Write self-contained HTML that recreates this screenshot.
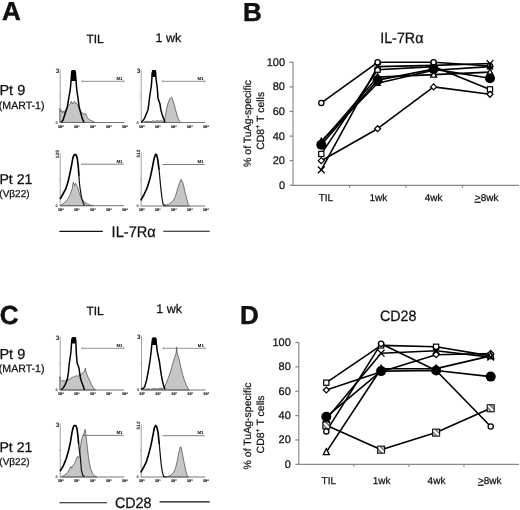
<!DOCTYPE html>
<html><head><meta charset="utf-8"><style>
html,body{margin:0;padding:0;background:#fff;}
body{width:520px;height:510px;overflow:hidden;}
svg{display:block;font-family:"Liberation Sans", sans-serif;will-change:transform;text-rendering:geometricPrecision;}
</style></head><body>
<svg width="520" height="510" viewBox="0 0 520 510">
<rect width="520" height="510" fill="#fff"/>
<text x="1.9" y="19.8" font-size="26" font-weight="bold" text-anchor="start" fill="#111" stroke="#111" stroke-width="0.45" >A</text>
<text x="242.9" y="20.9" font-size="26" font-weight="bold" text-anchor="start" fill="#111" stroke="#111" stroke-width="0.45" >B</text>
<text x="-0.2" y="324.0" font-size="26" font-weight="bold" text-anchor="start" fill="#111" stroke="#111" stroke-width="0.45" >C</text>
<text x="240.1" y="324.1" font-size="26" font-weight="bold" text-anchor="start" fill="#111" stroke="#111" stroke-width="0.45" >D</text>
<text x="86.4" y="43" font-size="12" font-weight="normal" text-anchor="start" fill="#111" stroke="#111" stroke-width="0.25" >TIL</text>
<text x="155.6" y="42.3" font-size="12.5" font-weight="normal" text-anchor="start" fill="#111" stroke="#111" stroke-width="0.25" >1 wk</text>
<text x="-0.6" y="94.9" font-size="14.5" font-weight="normal" text-anchor="start" fill="#111" stroke="#111" stroke-width="0.25" >Pt 9</text>
<text x="-1.2" y="108.9" font-size="10.6" font-weight="normal" text-anchor="start" fill="#111" stroke="#111" stroke-width="0.25" >(MART-1)</text>
<text x="-0.6" y="183.5" font-size="14.1" font-weight="normal" text-anchor="start" fill="#111" stroke="#111" stroke-width="0.25" >Pt 21</text>
<text x="-0.7" y="196.8" font-size="10" font-weight="normal" text-anchor="start" fill="#111" stroke="#111" stroke-width="0.25" >(V&#946;22)</text>
<text x="86.4" y="314.8" font-size="12" font-weight="normal" text-anchor="start" fill="#111" stroke="#111" stroke-width="0.25" >TIL</text>
<text x="156.3" y="313.1" font-size="12.5" font-weight="normal" text-anchor="start" fill="#111" stroke="#111" stroke-width="0.25" >1 wk</text>
<text x="-0.6" y="358.6" font-size="14.5" font-weight="normal" text-anchor="start" fill="#111" stroke="#111" stroke-width="0.25" >Pt 9</text>
<text x="-1.2" y="372.1" font-size="10.6" font-weight="normal" text-anchor="start" fill="#111" stroke="#111" stroke-width="0.25" >(MART-1)</text>
<text x="-0.6" y="451.8" font-size="14.1" font-weight="normal" text-anchor="start" fill="#111" stroke="#111" stroke-width="0.25" >Pt 21</text>
<text x="-0.7" y="465.1" font-size="10" font-weight="normal" text-anchor="start" fill="#111" stroke="#111" stroke-width="0.25" >(V&#946;22)</text>
<polygon points="59.8,122.5 59.8,122.5 59.8,108.4 60.6,112.0 61.5,110.0 62.5,113.0 63.5,111.0 64.5,112.5 65.5,110.0 66.5,109.0 67.5,107.0 68.5,105.0 69.5,104.5 70.5,103.5 71.5,101.3 72.5,104.0 73.5,102.5 74.5,101.3 75.5,103.5 76.5,103.0 77.5,105.0 78.5,107.0 79.5,109.5 80.5,111.0 81.5,112.0 82.5,113.0 83.5,114.5 84.5,113.8 85.6,113.6 86.5,116.0 88.0,118.5 90.0,120.0 93.3,121.5 95.0,122.5 95.0,122.5" fill="#c6c6c6" stroke="#444" stroke-width="0.7" stroke-linejoin="round"/>
<line x1="60.2" y1="69.6" x2="60.2" y2="122.5" stroke="#888" stroke-width="0.8"/>
<line x1="59.7" y1="122.5" x2="124.2" y2="122.5" stroke="#666" stroke-width="0.9"/>
<line x1="59.300000000000004" y1="96.0" x2="60.2" y2="96.0" stroke="#777" stroke-width="0.8"/>
<polyline points="61.7,121.6 63.0,120.3 64.2,116.5 65.6,112.0 67.2,107.3 68.3,101.0 69.3,95.0 70.2,90.0 70.8,84.0 71.3,78.0 71.7,72.0 72.3,70.8 74.7,70.8 75.3,72.0 75.8,78.0 76.3,84.0 76.8,90.0 77.7,96.0 78.5,102.0 79.2,107.3 80.5,112.0 81.7,116.5 82.8,120.0 83.8,121.6" fill="none" stroke="#000" stroke-width="1.5" stroke-linejoin="round" stroke-linecap="round"/>
<polygon points="70.9,81.0 71.3,75.0 71.5,71.0 72.0,70.1 75.0,70.1 75.5,71.0 75.8,75.0 76.2,81.0" fill="#000"/>
<text x="59.2" y="72.69999999999999" font-size="6.4" font-weight="bold" text-anchor="end" fill="#2a2a2a">3</text>
<text x="57.7" y="123.6" font-size="3.8" font-weight="bold" text-anchor="end" fill="#111">0</text>
<text x="60.8" y="127.8" font-size="3.7" font-weight="bold" text-anchor="middle" fill="#111" stroke="#111" stroke-width="0.2">10<tspan font-size="2.5" dy="-1.3" stroke-width="0.1">0</tspan></text>
<text x="76.8" y="127.8" font-size="3.7" font-weight="bold" text-anchor="middle" fill="#111" stroke="#111" stroke-width="0.2">10<tspan font-size="2.5" dy="-1.3" stroke-width="0.1">1</tspan></text>
<text x="92.8" y="127.8" font-size="3.7" font-weight="bold" text-anchor="middle" fill="#111" stroke="#111" stroke-width="0.2">10<tspan font-size="2.5" dy="-1.3" stroke-width="0.1">2</tspan></text>
<text x="108.8" y="127.8" font-size="3.7" font-weight="bold" text-anchor="middle" fill="#111" stroke="#111" stroke-width="0.2">10<tspan font-size="2.5" dy="-1.3" stroke-width="0.1">3</tspan></text>
<text x="124.8" y="127.8" font-size="3.7" font-weight="bold" text-anchor="middle" fill="#111" stroke="#111" stroke-width="0.2">10<tspan font-size="2.5" dy="-1.3" stroke-width="0.1">4</tspan></text>
<line x1="82.4" y1="81.3" x2="123.8" y2="81.3" stroke="#666" stroke-width="0.7"/>
<line x1="82.4" y1="80.3" x2="82.4" y2="82.3" stroke="#555" stroke-width="0.6"/>
<line x1="123.8" y1="80.3" x2="123.8" y2="82.3" stroke="#555" stroke-width="0.6"/>
<text x="122.5" y="79.89999999999999" font-size="4.3" font-weight="bold" text-anchor="end" fill="#000">M1</text>
<polygon points="143.0,122.5 143.0,122.5 145.0,121.6 148.0,121.3 151.0,121.8 153.0,120.8 155.0,121.5 157.0,120.5 159.0,121.2 161.0,120.8 163.0,121.2 164.3,121.5 165.5,115.0 166.6,109.0 167.8,104.0 169.0,100.5 170.2,98.2 171.4,97.2 172.4,98.5 173.3,101.5 174.3,105.0 175.5,109.5 176.7,114.0 177.8,117.8 179.6,121.3 180.2,122.5 180.2,122.5" fill="#c6c6c6" stroke="#444" stroke-width="0.7" stroke-linejoin="round"/>
<line x1="141.2" y1="69.6" x2="141.2" y2="122.5" stroke="#888" stroke-width="0.8"/>
<line x1="140.7" y1="122.5" x2="205.2" y2="122.5" stroke="#666" stroke-width="0.9"/>
<line x1="140.29999999999998" y1="96.0" x2="141.2" y2="96.0" stroke="#777" stroke-width="0.8"/>
<polyline points="141.7,121.7 143.2,120.3 144.6,118.1 146.3,114.0 147.5,111.0 148.1,109.4 148.8,104.0 149.5,97.9 150.4,92.0 151.3,86.0 151.8,80.0 152.2,74.0 152.7,71.0 155.4,71.0 155.8,76.0 156.2,80.0 157.0,86.0 157.6,92.0 157.9,97.9 159.9,103.7 160.8,109.4 162.0,114.0 163.4,118.1 164.8,121.7" fill="none" stroke="#000" stroke-width="1.5" stroke-linejoin="round" stroke-linecap="round"/>
<polygon points="151.6,77.0 151.9,72.0 152.3,70.2 155.9,70.2 156.1,72.0 156.2,77.0" fill="#000"/>
<text x="140.2" y="72.69999999999999" font-size="6.4" font-weight="bold" text-anchor="end" fill="#2a2a2a">3</text>
<text x="138.7" y="123.6" font-size="3.8" font-weight="bold" text-anchor="end" fill="#111">0</text>
<text x="141.8" y="127.8" font-size="3.7" font-weight="bold" text-anchor="middle" fill="#111" stroke="#111" stroke-width="0.2">10<tspan font-size="2.5" dy="-1.3" stroke-width="0.1">0</tspan></text>
<text x="157.8" y="127.8" font-size="3.7" font-weight="bold" text-anchor="middle" fill="#111" stroke="#111" stroke-width="0.2">10<tspan font-size="2.5" dy="-1.3" stroke-width="0.1">1</tspan></text>
<text x="173.8" y="127.8" font-size="3.7" font-weight="bold" text-anchor="middle" fill="#111" stroke="#111" stroke-width="0.2">10<tspan font-size="2.5" dy="-1.3" stroke-width="0.1">2</tspan></text>
<text x="189.8" y="127.8" font-size="3.7" font-weight="bold" text-anchor="middle" fill="#111" stroke="#111" stroke-width="0.2">10<tspan font-size="2.5" dy="-1.3" stroke-width="0.1">3</tspan></text>
<text x="205.8" y="127.8" font-size="3.7" font-weight="bold" text-anchor="middle" fill="#111" stroke="#111" stroke-width="0.2">10<tspan font-size="2.5" dy="-1.3" stroke-width="0.1">4</tspan></text>
<line x1="162.7" y1="81.3" x2="204.79999999999998" y2="81.3" stroke="#666" stroke-width="0.7"/>
<line x1="162.7" y1="80.3" x2="162.7" y2="82.3" stroke="#555" stroke-width="0.6"/>
<line x1="204.79999999999998" y1="80.3" x2="204.79999999999998" y2="82.3" stroke="#555" stroke-width="0.6"/>
<text x="203.5" y="79.89999999999999" font-size="4.3" font-weight="bold" text-anchor="end" fill="#000">M1</text>
<polygon points="60.4,205.7 60.4,205.6 63.9,203.3 67.4,199.8 69.8,195.1 72.1,189.2 73.3,182.1 74.5,185.6 75.6,183.3 77.4,186.8 79.2,192.7 80.9,197.4 83.3,200.9 86.2,203.3 89.8,205.1 93.3,205.6 93.3,205.7" fill="#c6c6c6" stroke="#444" stroke-width="0.7" stroke-linejoin="round"/>
<line x1="60.2" y1="153.2" x2="60.2" y2="205.7" stroke="#888" stroke-width="0.8"/>
<line x1="59.7" y1="205.7" x2="124.2" y2="205.7" stroke="#666" stroke-width="0.9"/>
<line x1="59.300000000000004" y1="179.4" x2="60.2" y2="179.4" stroke="#777" stroke-width="0.8"/>
<polyline points="60.4,198.6 62.7,194.5 65.6,189.2 68.0,182.1 69.8,173.9 71.5,165.6 73.0,157.4 74.3,154.6 75.9,154.6 77.1,157.4 78.2,165.6 78.9,175.0" fill="none" stroke="#000" stroke-width="1.65" stroke-linejoin="round" stroke-linecap="round"/>
<polyline points="78.9,175.0 79.4,183.3 80.4,190.4 81.5,197.4 83.3,203.3 84.5,205.4" fill="none" stroke="#111" stroke-width="1.2" stroke-linejoin="round"/>
<text transform="translate(58.7,154.2) rotate(-90)" font-size="4.8" font-weight="bold" text-anchor="middle" fill="#222">128</text>
<text x="57.7" y="206.79999999999998" font-size="3.8" font-weight="bold" text-anchor="end" fill="#111">0</text>
<text x="60.8" y="211.0" font-size="3.7" font-weight="bold" text-anchor="middle" fill="#111" stroke="#111" stroke-width="0.2">10<tspan font-size="2.5" dy="-1.3" stroke-width="0.1">0</tspan></text>
<text x="76.8" y="211.0" font-size="3.7" font-weight="bold" text-anchor="middle" fill="#111" stroke="#111" stroke-width="0.2">10<tspan font-size="2.5" dy="-1.3" stroke-width="0.1">1</tspan></text>
<text x="92.8" y="211.0" font-size="3.7" font-weight="bold" text-anchor="middle" fill="#111" stroke="#111" stroke-width="0.2">10<tspan font-size="2.5" dy="-1.3" stroke-width="0.1">2</tspan></text>
<text x="108.8" y="211.0" font-size="3.7" font-weight="bold" text-anchor="middle" fill="#111" stroke="#111" stroke-width="0.2">10<tspan font-size="2.5" dy="-1.3" stroke-width="0.1">3</tspan></text>
<text x="124.8" y="211.0" font-size="3.7" font-weight="bold" text-anchor="middle" fill="#111" stroke="#111" stroke-width="0.2">10<tspan font-size="2.5" dy="-1.3" stroke-width="0.1">4</tspan></text>
<line x1="81.0" y1="164.2" x2="123.8" y2="164.2" stroke="#666" stroke-width="0.85"/>
<text x="122.5" y="162.5" font-size="4.4" font-weight="bold" text-anchor="end" fill="#000">M1</text>
<polygon points="163.7,206.0 163.7,205.8 169.6,203.9 173.1,200.9 175.5,196.2 177.8,188.0 179.8,182.1 181.1,179.4 183.0,183.0 184.9,191.5 186.7,198.6 188.3,204.5 189.5,205.8 189.5,206.0" fill="#c6c6c6" stroke="#444" stroke-width="0.7" stroke-linejoin="round"/>
<line x1="141.2" y1="152.5" x2="141.2" y2="206.0" stroke="#888" stroke-width="0.8"/>
<line x1="140.7" y1="206.0" x2="205.2" y2="206.0" stroke="#666" stroke-width="0.9"/>
<line x1="140.29999999999998" y1="179.2" x2="141.2" y2="179.2" stroke="#777" stroke-width="0.8"/>
<polyline points="141.1,199.8 143.7,195.1 146.6,189.2 149.0,182.1 150.8,175.1 152.5,166.8 154.1,158.6 155.5,154.4 156.6,154.8 157.8,159.8 159.0,169.2" fill="none" stroke="#000" stroke-width="1.65" stroke-linejoin="round" stroke-linecap="round"/>
<polyline points="159.0,169.2 159.9,178.6 160.8,188.0 161.9,197.4 163.1,204.5 165.5,205.6" fill="none" stroke="#111" stroke-width="1.2" stroke-linejoin="round"/>
<text transform="translate(139.7,153.5) rotate(-90)" font-size="4.8" font-weight="bold" text-anchor="middle" fill="#222">512</text>
<text x="138.7" y="207.1" font-size="3.8" font-weight="bold" text-anchor="end" fill="#111">0</text>
<text x="141.8" y="211.3" font-size="3.7" font-weight="bold" text-anchor="middle" fill="#111" stroke="#111" stroke-width="0.2">10<tspan font-size="2.5" dy="-1.3" stroke-width="0.1">0</tspan></text>
<text x="157.8" y="211.3" font-size="3.7" font-weight="bold" text-anchor="middle" fill="#111" stroke="#111" stroke-width="0.2">10<tspan font-size="2.5" dy="-1.3" stroke-width="0.1">1</tspan></text>
<text x="173.8" y="211.3" font-size="3.7" font-weight="bold" text-anchor="middle" fill="#111" stroke="#111" stroke-width="0.2">10<tspan font-size="2.5" dy="-1.3" stroke-width="0.1">2</tspan></text>
<text x="189.8" y="211.3" font-size="3.7" font-weight="bold" text-anchor="middle" fill="#111" stroke="#111" stroke-width="0.2">10<tspan font-size="2.5" dy="-1.3" stroke-width="0.1">3</tspan></text>
<text x="205.8" y="211.3" font-size="3.7" font-weight="bold" text-anchor="middle" fill="#111" stroke="#111" stroke-width="0.2">10<tspan font-size="2.5" dy="-1.3" stroke-width="0.1">4</tspan></text>
<line x1="162.3" y1="164.5" x2="204.79999999999998" y2="164.5" stroke="#666" stroke-width="0.85"/>
<text x="203.5" y="162.8" font-size="4.4" font-weight="bold" text-anchor="end" fill="#000">M1</text>
<polygon points="59.8,390.0 59.8,390.0 59.8,376.5 60.5,380.7 61.5,381.2 63.0,380.5 64.5,381.0 66.0,380.5 67.5,380.0 69.0,379.5 70.5,378.5 72.0,377.5 73.5,377.0 75.0,376.5 76.8,375.5 77.5,376.5 78.6,376.0 79.6,374.0 80.6,375.5 81.6,374.0 82.6,372.5 83.6,372.0 84.6,371.5 85.3,368.2 85.9,371.5 87.0,374.5 88.0,377.2 89.8,380.7 91.5,384.8 93.3,387.7 95.6,390.0 95.6,390.0" fill="#c6c6c6" stroke="#444" stroke-width="0.7" stroke-linejoin="round"/>
<line x1="60.2" y1="336.9" x2="60.2" y2="390.0" stroke="#888" stroke-width="0.8"/>
<line x1="59.7" y1="390.0" x2="124.2" y2="390.0" stroke="#666" stroke-width="0.9"/>
<line x1="59.300000000000004" y1="363.4" x2="60.2" y2="363.4" stroke="#777" stroke-width="0.8"/>
<polyline points="61.8,389.2 63.5,387.5 64.9,385.1 66.3,382.0 67.4,378.8 68.4,372.5 69.3,363.1 70.1,358.0 70.8,353.0 71.3,347.0 71.7,341.0 72.3,338.0 75.4,338.0 75.8,341.0 76.1,347.0 76.3,353.0 76.7,358.0 77.1,363.1 79.0,368.0 79.6,372.5 80.6,378.8 81.6,382.0 82.8,385.1 84.3,389.2" fill="none" stroke="#000" stroke-width="1.5" stroke-linejoin="round" stroke-linecap="round"/>
<polygon points="71.5,343.5 71.8,339.0 72.1,337.2 75.7,337.2 75.9,339.0 76.0,343.5" fill="#000"/>
<text x="59.2" y="340.0" font-size="6.4" font-weight="bold" text-anchor="end" fill="#2a2a2a">3</text>
<text x="57.7" y="391.1" font-size="3.8" font-weight="bold" text-anchor="end" fill="#111">0</text>
<text x="60.8" y="395.3" font-size="3.7" font-weight="bold" text-anchor="middle" fill="#111" stroke="#111" stroke-width="0.2">10<tspan font-size="2.5" dy="-1.3" stroke-width="0.1">0</tspan></text>
<text x="76.8" y="395.3" font-size="3.7" font-weight="bold" text-anchor="middle" fill="#111" stroke="#111" stroke-width="0.2">10<tspan font-size="2.5" dy="-1.3" stroke-width="0.1">1</tspan></text>
<text x="92.8" y="395.3" font-size="3.7" font-weight="bold" text-anchor="middle" fill="#111" stroke="#111" stroke-width="0.2">10<tspan font-size="2.5" dy="-1.3" stroke-width="0.1">2</tspan></text>
<text x="108.8" y="395.3" font-size="3.7" font-weight="bold" text-anchor="middle" fill="#111" stroke="#111" stroke-width="0.2">10<tspan font-size="2.5" dy="-1.3" stroke-width="0.1">3</tspan></text>
<text x="124.8" y="395.3" font-size="3.7" font-weight="bold" text-anchor="middle" fill="#111" stroke="#111" stroke-width="0.2">10<tspan font-size="2.5" dy="-1.3" stroke-width="0.1">4</tspan></text>
<line x1="82.2" y1="348.3" x2="123.8" y2="348.3" stroke="#666" stroke-width="0.7"/>
<line x1="82.2" y1="347.3" x2="82.2" y2="349.3" stroke="#555" stroke-width="0.6"/>
<line x1="123.8" y1="347.3" x2="123.8" y2="349.3" stroke="#555" stroke-width="0.6"/>
<text x="122.5" y="346.90000000000003" font-size="4.3" font-weight="bold" text-anchor="end" fill="#000">M1</text>
<polygon points="143.0,390.0 143.0,390.0 145.0,389.2 148.0,388.8 151.0,389.3 154.0,388.5 157.0,389.0 160.0,388.3 163.7,388.3 166.1,383.6 168.4,377.7 170.8,370.6 173.1,362.4 174.9,356.5 176.2,353.0 176.6,347.1 177.2,353.0 179.0,358.9 180.8,367.1 182.5,374.2 184.3,380.0 186.1,384.8 188.4,388.9 189.6,390.0 189.6,390.0" fill="#c6c6c6" stroke="#444" stroke-width="0.7" stroke-linejoin="round"/>
<line x1="141.5" y1="336.2" x2="141.5" y2="390.0" stroke="#888" stroke-width="0.8"/>
<line x1="141.0" y1="390.0" x2="205.5" y2="390.0" stroke="#666" stroke-width="0.9"/>
<line x1="140.6" y1="363.1" x2="141.5" y2="363.1" stroke="#777" stroke-width="0.8"/>
<polyline points="141.4,389.0 143.5,388.2 144.8,386.5 146.6,380.0 148.4,370.6 150.2,359.5 151.3,350.0 152.0,343.0 152.6,338.5 155.8,338.5 156.3,343.0 157.2,351.0 158.4,357.0 159.5,362.0 160.3,368.3 161.4,375.4 162.5,381.2 163.7,385.9 164.9,388.6" fill="none" stroke="#000" stroke-width="1.5" stroke-linejoin="round" stroke-linecap="round"/>
<polygon points="152.0,345.0 152.3,340.0 152.8,337.4 155.9,337.4 156.3,340.0 156.6,345.0" fill="#000"/>
<text x="140.5" y="339.3" font-size="6.4" font-weight="bold" text-anchor="end" fill="#2a2a2a">3</text>
<text x="139.0" y="391.1" font-size="3.8" font-weight="bold" text-anchor="end" fill="#111">0</text>
<text x="142.1" y="395.3" font-size="3.7" font-weight="bold" text-anchor="middle" fill="#111" stroke="#111" stroke-width="0.2">10<tspan font-size="2.5" dy="-1.3" stroke-width="0.1">0</tspan></text>
<text x="158.1" y="395.3" font-size="3.7" font-weight="bold" text-anchor="middle" fill="#111" stroke="#111" stroke-width="0.2">10<tspan font-size="2.5" dy="-1.3" stroke-width="0.1">1</tspan></text>
<text x="174.1" y="395.3" font-size="3.7" font-weight="bold" text-anchor="middle" fill="#111" stroke="#111" stroke-width="0.2">10<tspan font-size="2.5" dy="-1.3" stroke-width="0.1">2</tspan></text>
<text x="190.1" y="395.3" font-size="3.7" font-weight="bold" text-anchor="middle" fill="#111" stroke="#111" stroke-width="0.2">10<tspan font-size="2.5" dy="-1.3" stroke-width="0.1">3</tspan></text>
<text x="206.1" y="395.3" font-size="3.7" font-weight="bold" text-anchor="middle" fill="#111" stroke="#111" stroke-width="0.2">10<tspan font-size="2.5" dy="-1.3" stroke-width="0.1">4</tspan></text>
<line x1="163.2" y1="348.3" x2="205.1" y2="348.3" stroke="#666" stroke-width="0.7"/>
<line x1="163.2" y1="347.3" x2="163.2" y2="349.3" stroke="#555" stroke-width="0.6"/>
<line x1="205.1" y1="347.3" x2="205.1" y2="349.3" stroke="#555" stroke-width="0.6"/>
<text x="203.8" y="346.90000000000003" font-size="4.3" font-weight="bold" text-anchor="end" fill="#000">M1</text>
<polygon points="61.5,477.0 61.5,477.0 65.1,474.7 67.4,472.9 69.2,469.4 70.9,466.5 71.5,468.2 72.7,465.9 74.5,463.5 75.6,461.2 77.4,456.5 78.6,457.6 79.8,455.3 80.6,445.9 81.5,440.0 82.7,436.5 84.1,432.9 85.1,429.4 85.6,432.9 86.5,440.0 87.4,448.2 88.4,456.5 89.5,463.5 90.9,469.4 92.7,474.1 95.1,476.2 96.8,477.0 96.8,477.0" fill="#c6c6c6" stroke="#444" stroke-width="0.7" stroke-linejoin="round"/>
<line x1="60.2" y1="423.7" x2="60.2" y2="477.0" stroke="#888" stroke-width="0.8"/>
<line x1="59.7" y1="477.0" x2="124.2" y2="477.0" stroke="#666" stroke-width="0.9"/>
<line x1="59.300000000000004" y1="450.4" x2="60.2" y2="450.4" stroke="#777" stroke-width="0.8"/>
<polyline points="60.4,470.6 63.3,465.9 66.2,458.8 68.6,450.6 70.4,442.4 71.9,432.9 73.3,427.0 74.3,425.5 75.8,425.5 76.9,428.2 78.0,436.5 78.6,443.5" fill="none" stroke="#000" stroke-width="1.65" stroke-linejoin="round" stroke-linecap="round"/>
<polyline points="78.6,443.5 79.4,450.6 80.4,457.6 80.9,464.7 81.5,470.6 82.7,475.3 84.5,476.5" fill="none" stroke="#111" stroke-width="1.2" stroke-linejoin="round"/>
<text x="59.2" y="426.8" font-size="6.4" font-weight="bold" text-anchor="end" fill="#2a2a2a">3</text>
<text x="57.7" y="478.1" font-size="3.8" font-weight="bold" text-anchor="end" fill="#111">0</text>
<text x="60.8" y="482.3" font-size="3.7" font-weight="bold" text-anchor="middle" fill="#111" stroke="#111" stroke-width="0.2">10<tspan font-size="2.5" dy="-1.3" stroke-width="0.1">0</tspan></text>
<text x="76.8" y="482.3" font-size="3.7" font-weight="bold" text-anchor="middle" fill="#111" stroke="#111" stroke-width="0.2">10<tspan font-size="2.5" dy="-1.3" stroke-width="0.1">1</tspan></text>
<text x="92.8" y="482.3" font-size="3.7" font-weight="bold" text-anchor="middle" fill="#111" stroke="#111" stroke-width="0.2">10<tspan font-size="2.5" dy="-1.3" stroke-width="0.1">2</tspan></text>
<text x="108.8" y="482.3" font-size="3.7" font-weight="bold" text-anchor="middle" fill="#111" stroke="#111" stroke-width="0.2">10<tspan font-size="2.5" dy="-1.3" stroke-width="0.1">3</tspan></text>
<text x="124.8" y="482.3" font-size="3.7" font-weight="bold" text-anchor="middle" fill="#111" stroke="#111" stroke-width="0.2">10<tspan font-size="2.5" dy="-1.3" stroke-width="0.1">4</tspan></text>
<line x1="82.4" y1="435.4" x2="123.8" y2="435.4" stroke="#666" stroke-width="0.85"/>
<text x="122.5" y="433.7" font-size="4.4" font-weight="bold" text-anchor="end" fill="#000">M1</text>
<polygon points="166.1,477.0 166.1,477.0 170.8,475.3 173.7,472.4 175.5,468.2 177.2,461.2 179.0,451.8 180.2,447.1 181.1,447.1 182.5,454.1 184.3,463.5 185.8,470.6 187.2,475.3 188.4,477.0 188.4,477.0" fill="#c6c6c6" stroke="#444" stroke-width="0.7" stroke-linejoin="round"/>
<line x1="141.2" y1="424.4" x2="141.2" y2="477.0" stroke="#888" stroke-width="0.8"/>
<line x1="140.7" y1="477.0" x2="205.2" y2="477.0" stroke="#666" stroke-width="0.9"/>
<line x1="140.29999999999998" y1="450.7" x2="141.2" y2="450.7" stroke="#777" stroke-width="0.8"/>
<polyline points="141.1,471.8 143.7,467.1 146.1,462.4 148.4,455.3 150.8,445.9 152.5,437.6 154.3,428.2 155.7,425.4 156.9,427.1 158.1,432.9 159.2,443.5" fill="none" stroke="#000" stroke-width="1.65" stroke-linejoin="round" stroke-linecap="round"/>
<polyline points="159.2,443.5 160.2,454.1 161.1,463.5 162.3,471.8 163.7,476.5 166.1,477.2" fill="none" stroke="#111" stroke-width="1.2" stroke-linejoin="round"/>
<text transform="translate(139.7,425.4) rotate(-90)" font-size="4.8" font-weight="bold" text-anchor="middle" fill="#222">512</text>
<text x="138.7" y="478.1" font-size="3.8" font-weight="bold" text-anchor="end" fill="#111">0</text>
<text x="141.8" y="482.3" font-size="3.7" font-weight="bold" text-anchor="middle" fill="#111" stroke="#111" stroke-width="0.2">10<tspan font-size="2.5" dy="-1.3" stroke-width="0.1">0</tspan></text>
<text x="157.8" y="482.3" font-size="3.7" font-weight="bold" text-anchor="middle" fill="#111" stroke="#111" stroke-width="0.2">10<tspan font-size="2.5" dy="-1.3" stroke-width="0.1">1</tspan></text>
<text x="173.8" y="482.3" font-size="3.7" font-weight="bold" text-anchor="middle" fill="#111" stroke="#111" stroke-width="0.2">10<tspan font-size="2.5" dy="-1.3" stroke-width="0.1">2</tspan></text>
<text x="189.8" y="482.3" font-size="3.7" font-weight="bold" text-anchor="middle" fill="#111" stroke="#111" stroke-width="0.2">10<tspan font-size="2.5" dy="-1.3" stroke-width="0.1">3</tspan></text>
<text x="205.8" y="482.3" font-size="3.7" font-weight="bold" text-anchor="middle" fill="#111" stroke="#111" stroke-width="0.2">10<tspan font-size="2.5" dy="-1.3" stroke-width="0.1">4</tspan></text>
<line x1="162.7" y1="435.7" x2="204.79999999999998" y2="435.7" stroke="#666" stroke-width="0.85"/>
<text x="203.5" y="434.0" font-size="4.4" font-weight="bold" text-anchor="end" fill="#000">M1</text>
<line x1="59.3" y1="231.4" x2="102.8" y2="231.4" stroke="#111" stroke-width="1.1"/>
<text transform="translate(111.6,236.6) scale(1,1.055)" font-size="14.6" fill="#111" stroke="#111" stroke-width="0.25">IL-7R&#945;</text>
<line x1="163.2" y1="231.3" x2="209.7" y2="231.3" stroke="#111" stroke-width="1.1"/>
<line x1="59.5" y1="502.7" x2="106.9" y2="502.7" stroke="#111" stroke-width="1.1"/>
<text transform="translate(114.9,508.4) scale(1,1.055)" font-size="14.3" fill="#111" stroke="#111" stroke-width="0.25">CD28</text>
<line x1="159.6" y1="501.9" x2="209.7" y2="501.9" stroke="#111" stroke-width="1.1"/>
<line x1="293.0" y1="61.699999999999996" x2="293.0" y2="185.3" stroke="#888" stroke-width="1.15"/>
<line x1="293.0" y1="185.3" x2="519.0" y2="185.3" stroke="#888" stroke-width="1.15"/>
<line x1="289.6" y1="185.30" x2="293.0" y2="185.30" stroke="#808080" stroke-width="1.2"/>
<text x="285.0" y="188.75" font-size="11" font-weight="normal" text-anchor="end" fill="#111" stroke="#111" stroke-width="0.25" >0</text>
<line x1="289.6" y1="160.70" x2="293.0" y2="160.70" stroke="#808080" stroke-width="1.2"/>
<text x="285.0" y="164.15" font-size="11" font-weight="normal" text-anchor="end" fill="#111" stroke="#111" stroke-width="0.25" >20</text>
<line x1="289.6" y1="136.10" x2="293.0" y2="136.10" stroke="#808080" stroke-width="1.2"/>
<text x="285.0" y="139.55" font-size="11" font-weight="normal" text-anchor="end" fill="#111" stroke="#111" stroke-width="0.25" >40</text>
<line x1="289.6" y1="111.50" x2="293.0" y2="111.50" stroke="#808080" stroke-width="1.2"/>
<text x="285.0" y="114.95" font-size="11" font-weight="normal" text-anchor="end" fill="#111" stroke="#111" stroke-width="0.25" >60</text>
<line x1="289.6" y1="86.90" x2="293.0" y2="86.90" stroke="#808080" stroke-width="1.2"/>
<text x="285.0" y="90.35" font-size="11" font-weight="normal" text-anchor="end" fill="#111" stroke="#111" stroke-width="0.25" >80</text>
<line x1="289.6" y1="62.30" x2="293.0" y2="62.30" stroke="#808080" stroke-width="1.2"/>
<text x="285.0" y="65.75" font-size="11" font-weight="normal" text-anchor="end" fill="#111" stroke="#111" stroke-width="0.25" >100</text>
<line x1="349.50" y1="185.3" x2="349.50" y2="187.70000000000002" stroke="#808080" stroke-width="1.1"/>
<line x1="406.00" y1="185.3" x2="406.00" y2="187.70000000000002" stroke="#808080" stroke-width="1.1"/>
<line x1="462.50" y1="185.3" x2="462.50" y2="187.70000000000002" stroke="#808080" stroke-width="1.1"/>
<text transform="translate(380.2,43.1) scale(1,1.055)" font-size="14.3" fill="#111" stroke="#111" stroke-width="0.25">IL-7R&#945;</text>
<text transform="translate(251.0,166.9) rotate(-90)" font-size="10.5" fill="#111" stroke="#111" stroke-width="0.2">% of TuAg-specific</text>
<text transform="translate(263.9,149.8) rotate(-90)" font-size="10.5" fill="#111" stroke="#111" stroke-width="0.2">CD8<tspan font-size="7" dy="-3.5">+</tspan><tspan dy="3.5"> T cells</tspan></text>
<text x="318.7" y="200.8" font-size="10" font-weight="normal" text-anchor="start" fill="#111" stroke="#111" stroke-width="0.25" >TIL</text>
<text x="369.4" y="200.8" font-size="10" font-weight="normal" text-anchor="start" fill="#111" stroke="#111" stroke-width="0.25" >1wk</text>
<text x="424.8" y="200.8" font-size="10" font-weight="normal" text-anchor="start" fill="#111" stroke="#111" stroke-width="0.25" >4wk</text>
<text x="474.8" y="200.8" font-size="10" font-weight="normal" text-anchor="start" fill="#111" stroke="#111" stroke-width="0.25" ><tspan text-decoration="underline">&gt;</tspan>8wk</text>
<polyline points="321.3,102.9 377.6,62.3 433.6,62.3 490.0,66.0" fill="none" stroke="#000" stroke-width="1.6" stroke-linejoin="round"/>
<polyline points="321.3,141.0 377.6,83.2 433.6,70.3 490.0,66.6" fill="none" stroke="#000" stroke-width="1.6" stroke-linejoin="round"/>
<polyline points="321.3,142.2 377.6,77.1 433.6,74.6 490.0,72.1" fill="none" stroke="#000" stroke-width="1.6" stroke-linejoin="round"/>
<polyline points="321.3,153.9 377.6,69.7 433.6,66.6 490.0,89.4" fill="none" stroke="#000" stroke-width="1.6" stroke-linejoin="round"/>
<polyline points="321.3,169.9 377.6,66.6 433.6,65.4 490.0,63.5" fill="none" stroke="#000" stroke-width="1.6" stroke-linejoin="round"/>
<polyline points="321.3,144.7 377.6,80.1 433.6,69.1 490.0,78.3" fill="none" stroke="#000" stroke-width="1.6" stroke-linejoin="round"/>
<polyline points="321.3,160.7 377.6,128.7 433.6,86.9 490.0,94.3" fill="none" stroke="#000" stroke-width="1.6" stroke-linejoin="round"/>
<rect x="318.70" y="151.34" width="5.2" height="5.2" fill="#fff" stroke="#000" stroke-width="1.2"/>
<rect x="375.00" y="67.08" width="5.2" height="5.2" fill="#fff" stroke="#000" stroke-width="1.2"/>
<rect x="431.00" y="64.00" width="5.2" height="5.2" fill="#fff" stroke="#000" stroke-width="1.2"/>
<rect x="487.40" y="86.76" width="5.2" height="5.2" fill="#fff" stroke="#000" stroke-width="1.2"/>
<polygon points="321.30,157.70 324.30,160.70 321.30,163.70 318.30,160.70" fill="#fff" stroke="#000" stroke-width="1.2"/>
<polygon points="377.60,125.72 380.60,128.72 377.60,131.72 374.60,128.72" fill="#fff" stroke="#000" stroke-width="1.2"/>
<polygon points="433.60,83.90 436.60,86.90 433.60,89.90 430.60,86.90" fill="#fff" stroke="#000" stroke-width="1.2"/>
<polygon points="490.00,91.28 493.00,94.28 490.00,97.28 487.00,94.28" fill="#fff" stroke="#000" stroke-width="1.2"/>
<polygon points="321.30,138.75 324.30,144.85 318.30,144.85" fill="#fff" stroke="#000" stroke-width="1.3" stroke-linejoin="miter"/>
<polygon points="377.60,73.56 380.60,79.66 374.60,79.66" fill="#fff" stroke="#000" stroke-width="1.3" stroke-linejoin="miter"/>
<polygon points="433.60,71.10 436.60,77.20 430.60,77.20" fill="#fff" stroke="#000" stroke-width="1.3" stroke-linejoin="miter"/>
<polygon points="490.00,68.64 493.00,74.74 487.00,74.74" fill="#fff" stroke="#000" stroke-width="1.3" stroke-linejoin="miter"/>
<path d="M317.90,166.53L324.70,173.33M324.70,166.53L317.90,173.33" stroke="#000" stroke-width="1.3"/>
<path d="M374.20,63.20L381.00,70.00M381.00,63.20L374.20,70.00" stroke="#000" stroke-width="1.3"/>
<path d="M430.20,61.97L437.00,68.77M437.00,61.97L430.20,68.77" stroke="#000" stroke-width="1.3"/>
<path d="M486.60,60.13L493.40,66.93M493.40,60.13L486.60,66.93" stroke="#000" stroke-width="1.3"/>
<circle cx="321.30" cy="102.89" r="2.6" fill="#fff" stroke="#000" stroke-width="1.3"/>
<circle cx="377.60" cy="62.30" r="2.6" fill="#fff" stroke="#000" stroke-width="1.3"/>
<circle cx="433.60" cy="62.30" r="2.6" fill="#fff" stroke="#000" stroke-width="1.3"/>
<circle cx="490.00" cy="65.99" r="2.6" fill="#fff" stroke="#000" stroke-width="1.3"/>
<polygon points="321.30,137.12 324.90,143.82 317.70,143.82" fill="#000"/>
<polygon points="377.60,79.31 381.20,86.01 374.00,86.01" fill="#000"/>
<polygon points="433.60,66.39 437.20,73.09 430.00,73.09" fill="#000"/>
<polygon points="490.00,62.70 493.60,69.40 486.40,69.40" fill="#000"/>
<circle cx="321.30" cy="144.71" r="5.0" fill="#000"/>
<circle cx="377.60" cy="80.13" r="5.0" fill="#000"/>
<circle cx="433.60" cy="69.06" r="5.0" fill="#000"/>
<circle cx="490.00" cy="78.29" r="5.0" fill="#000"/>
<line x1="298.8" y1="341.9" x2="298.8" y2="464.3" stroke="#888" stroke-width="1.15"/>
<line x1="298.8" y1="464.3" x2="519.0" y2="464.3" stroke="#888" stroke-width="1.15"/>
<line x1="295.40000000000003" y1="464.30" x2="298.8" y2="464.30" stroke="#808080" stroke-width="1.2"/>
<text x="290.8" y="467.75" font-size="11" font-weight="normal" text-anchor="end" fill="#111" stroke="#111" stroke-width="0.25" >0</text>
<line x1="295.40000000000003" y1="439.94" x2="298.8" y2="439.94" stroke="#808080" stroke-width="1.2"/>
<text x="290.8" y="443.39" font-size="11" font-weight="normal" text-anchor="end" fill="#111" stroke="#111" stroke-width="0.25" >20</text>
<line x1="295.40000000000003" y1="415.58" x2="298.8" y2="415.58" stroke="#808080" stroke-width="1.2"/>
<text x="290.8" y="419.03" font-size="11" font-weight="normal" text-anchor="end" fill="#111" stroke="#111" stroke-width="0.25" >40</text>
<line x1="295.40000000000003" y1="391.22" x2="298.8" y2="391.22" stroke="#808080" stroke-width="1.2"/>
<text x="290.8" y="394.67" font-size="11" font-weight="normal" text-anchor="end" fill="#111" stroke="#111" stroke-width="0.25" >60</text>
<line x1="295.40000000000003" y1="366.86" x2="298.8" y2="366.86" stroke="#808080" stroke-width="1.2"/>
<text x="290.8" y="370.31" font-size="11" font-weight="normal" text-anchor="end" fill="#111" stroke="#111" stroke-width="0.25" >80</text>
<line x1="295.40000000000003" y1="342.50" x2="298.8" y2="342.50" stroke="#808080" stroke-width="1.2"/>
<text x="290.8" y="345.95" font-size="11" font-weight="normal" text-anchor="end" fill="#111" stroke="#111" stroke-width="0.25" >100</text>
<line x1="353.85" y1="464.3" x2="353.85" y2="466.7" stroke="#808080" stroke-width="1.1"/>
<line x1="408.90" y1="464.3" x2="408.90" y2="466.7" stroke="#808080" stroke-width="1.1"/>
<line x1="463.95" y1="464.3" x2="463.95" y2="466.7" stroke="#808080" stroke-width="1.1"/>
<text transform="translate(379.9,321.2) scale(1,1.055)" font-size="14.3" fill="#111" stroke="#111" stroke-width="0.25">CD28</text>
<text transform="translate(251.0,469.4) rotate(-90)" font-size="10.5" fill="#111" stroke="#111" stroke-width="0.2">% of TuAg-specific</text>
<text transform="translate(263.9,453.4) rotate(-90)" font-size="10.5" fill="#111" stroke="#111" stroke-width="0.2">CD8<tspan font-size="7" dy="-3.5">+</tspan><tspan dy="3.5"> T cells</tspan></text>
<text x="321.6" y="483.8" font-size="10" font-weight="normal" text-anchor="start" fill="#111" stroke="#111" stroke-width="0.25" >TIL</text>
<text x="372.8" y="483.8" font-size="10" font-weight="normal" text-anchor="start" fill="#111" stroke="#111" stroke-width="0.25" >1wk</text>
<text x="427.6" y="483.8" font-size="10" font-weight="normal" text-anchor="start" fill="#111" stroke="#111" stroke-width="0.25" >4wk</text>
<text x="477.9" y="483.8" font-size="10" font-weight="normal" text-anchor="start" fill="#111" stroke="#111" stroke-width="0.25" ><tspan text-decoration="underline">&gt;</tspan>8wk</text>
<polyline points="326.3,431.4 381.1,343.7 436.1,370.5 490.7,426.5" fill="none" stroke="#000" stroke-width="1.6" stroke-linejoin="round"/>
<polyline points="326.3,452.1 381.1,368.8 436.1,368.6 490.7,355.9" fill="none" stroke="#000" stroke-width="1.6" stroke-linejoin="round"/>
<polyline points="326.3,419.2 381.1,353.2 436.1,350.7 490.7,357.1" fill="none" stroke="#000" stroke-width="1.6" stroke-linejoin="round"/>
<polyline points="326.3,390.0 381.1,371.7 436.1,354.7 490.7,353.5" fill="none" stroke="#000" stroke-width="1.6" stroke-linejoin="round"/>
<polyline points="326.3,382.7 381.1,345.4 436.1,346.8 490.7,355.9" fill="none" stroke="#000" stroke-width="1.6" stroke-linejoin="round"/>
<polyline points="326.3,425.3 381.1,449.7 436.1,432.6 490.7,408.3" fill="none" stroke="#000" stroke-width="1.6" stroke-linejoin="round"/>
<polyline points="326.3,416.8 381.1,371.1 436.1,370.5 490.7,376.6" fill="none" stroke="#000" stroke-width="1.6" stroke-linejoin="round"/>
<rect x="323.70" y="380.09" width="5.2" height="5.2" fill="#fff" stroke="#000" stroke-width="1.2"/>
<rect x="378.50" y="342.82" width="5.2" height="5.2" fill="#fff" stroke="#000" stroke-width="1.2"/>
<rect x="433.50" y="344.16" width="5.2" height="5.2" fill="#fff" stroke="#000" stroke-width="1.2"/>
<rect x="488.10" y="353.30" width="5.2" height="5.2" fill="#fff" stroke="#000" stroke-width="1.2"/>
<rect x="322.80" y="421.82" width="7.0" height="7.0" fill="#fff"/>
<line x1="325.30" y1="421.82" x2="329.80" y2="426.32" stroke="#666" stroke-width="1.3"/>
<line x1="322.80" y1="424.32" x2="327.30" y2="428.82" stroke="#666" stroke-width="1.3"/>
<line x1="327.80" y1="421.82" x2="329.80" y2="423.82" stroke="#666" stroke-width="1.0"/>
<line x1="322.80" y1="426.82" x2="324.80" y2="428.82" stroke="#666" stroke-width="1.0"/>
<rect x="322.80" y="421.82" width="7.0" height="7.0" fill="none" stroke="#111" stroke-width="1.1"/>
<rect x="377.60" y="446.18" width="7.0" height="7.0" fill="#fff"/>
<line x1="380.10" y1="446.18" x2="384.60" y2="450.68" stroke="#666" stroke-width="1.3"/>
<line x1="377.60" y1="448.68" x2="382.10" y2="453.18" stroke="#666" stroke-width="1.3"/>
<line x1="382.60" y1="446.18" x2="384.60" y2="448.18" stroke="#666" stroke-width="1.0"/>
<line x1="377.60" y1="451.18" x2="379.60" y2="453.18" stroke="#666" stroke-width="1.0"/>
<rect x="377.60" y="446.18" width="7.0" height="7.0" fill="none" stroke="#111" stroke-width="1.1"/>
<rect x="432.60" y="429.13" width="7.0" height="7.0" fill="#fff"/>
<line x1="435.10" y1="429.13" x2="439.60" y2="433.63" stroke="#666" stroke-width="1.3"/>
<line x1="432.60" y1="431.63" x2="437.10" y2="436.13" stroke="#666" stroke-width="1.3"/>
<line x1="437.60" y1="429.13" x2="439.60" y2="431.13" stroke="#666" stroke-width="1.0"/>
<line x1="432.60" y1="434.13" x2="434.60" y2="436.13" stroke="#666" stroke-width="1.0"/>
<rect x="432.60" y="429.13" width="7.0" height="7.0" fill="none" stroke="#111" stroke-width="1.1"/>
<rect x="487.20" y="404.77" width="7.0" height="7.0" fill="#fff"/>
<line x1="489.70" y1="404.77" x2="494.20" y2="409.27" stroke="#666" stroke-width="1.3"/>
<line x1="487.20" y1="407.27" x2="491.70" y2="411.77" stroke="#666" stroke-width="1.3"/>
<line x1="492.20" y1="404.77" x2="494.20" y2="406.77" stroke="#666" stroke-width="1.0"/>
<line x1="487.20" y1="409.77" x2="489.20" y2="411.77" stroke="#666" stroke-width="1.0"/>
<rect x="487.20" y="404.77" width="7.0" height="7.0" fill="none" stroke="#111" stroke-width="1.1"/>
<polygon points="326.30,387.00 329.30,390.00 326.30,393.00 323.30,390.00" fill="#fff" stroke="#000" stroke-width="1.2"/>
<polygon points="381.10,368.73 384.10,371.73 381.10,374.73 378.10,371.73" fill="#fff" stroke="#000" stroke-width="1.2"/>
<polygon points="436.10,351.68 439.10,354.68 436.10,357.68 433.10,354.68" fill="#fff" stroke="#000" stroke-width="1.2"/>
<polygon points="490.70,350.46 493.70,353.46 490.70,356.46 487.70,353.46" fill="#fff" stroke="#000" stroke-width="1.2"/>
<polygon points="326.30,448.62 329.30,454.72 323.30,454.72" fill="#fff" stroke="#000" stroke-width="1.3" stroke-linejoin="miter"/>
<polygon points="381.10,365.31 384.10,371.41 378.10,371.41" fill="#fff" stroke="#000" stroke-width="1.3" stroke-linejoin="miter"/>
<polygon points="436.10,365.07 439.10,371.17 433.10,371.17" fill="#fff" stroke="#000" stroke-width="1.3" stroke-linejoin="miter"/>
<polygon points="490.70,352.40 493.70,358.50 487.70,358.50" fill="#fff" stroke="#000" stroke-width="1.3" stroke-linejoin="miter"/>
<path d="M322.90,415.83L329.70,422.63M329.70,415.83L322.90,422.63" stroke="#000" stroke-width="1.3"/>
<path d="M377.70,349.82L384.50,356.62M384.50,349.82L377.70,356.62" stroke="#000" stroke-width="1.3"/>
<path d="M432.70,347.26L439.50,354.06M439.50,347.26L432.70,354.06" stroke="#000" stroke-width="1.3"/>
<path d="M487.30,353.72L494.10,360.52M494.10,353.72L487.30,360.52" stroke="#000" stroke-width="1.3"/>
<circle cx="326.30" cy="431.41" r="2.6" fill="#fff" stroke="#000" stroke-width="1.3"/>
<circle cx="381.10" cy="343.72" r="2.6" fill="#fff" stroke="#000" stroke-width="1.3"/>
<circle cx="436.10" cy="370.51" r="2.6" fill="#fff" stroke="#000" stroke-width="1.3"/>
<circle cx="490.70" cy="426.54" r="2.6" fill="#fff" stroke="#000" stroke-width="1.3"/>
<circle cx="326.30" cy="416.80" r="5.0" fill="#000"/>
<circle cx="381.10" cy="371.12" r="5.0" fill="#000"/>
<circle cx="436.10" cy="370.51" r="5.0" fill="#000"/>
<circle cx="490.70" cy="376.60" r="5.0" fill="#000"/>
</svg>
</body></html>
